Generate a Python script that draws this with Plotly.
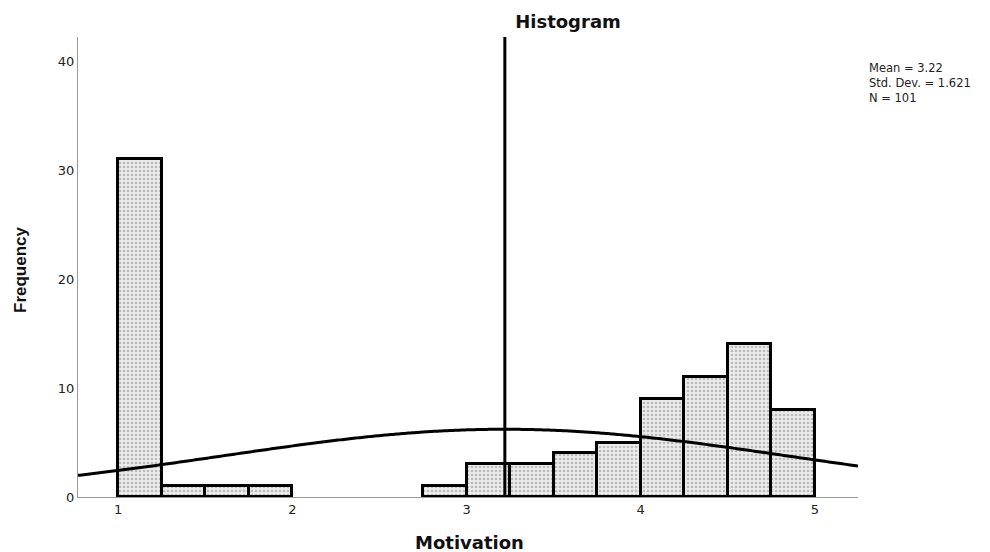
import numpy as np
import plotly.graph_objects as go

# Data
bin_starts = [1.0, 1.25, 1.5, 1.75, 2.75, 3.0, 3.25, 3.5, 3.75, 4.0, 4.25, 4.5, 4.75]
counts = [31, 1, 1, 1, 1, 3, 3, 4, 5, 9, 11, 14, 8]
bin_width = 0.25
mean_val = 3.22
std_val = 1.621
n_val = 101
x_ticks = [1, 2, 3, 4, 5]
y_ticks = [0, 10, 20, 30, 40]
stat_lines = ["Mean = %.2f" % mean_val, "Std. Dev. = %.3f" % std_val, "N = %d" % n_val]

x_range = [0.77, 5.247]
y_range = [0, 42.2]

centers = [b + bin_width / 2 for b in bin_starts]

fig = go.Figure()
fig.add_trace(go.Bar(
    x=centers, y=counts, width=bin_width,
    marker=dict(
        color="#e6e6e6",
        line=dict(color="black", width=3),
        pattern=dict(shape=".", fgcolor="#8a8a8a", bgcolor="#ececec", size=4, solidity=0.35),
    ),
    showlegend=False, hoverinfo="x+y",
))

# Normal curve from stated mean, SD and N
xc = np.linspace(x_range[0], x_range[1], 400)
yc = n_val * bin_width / (std_val * np.sqrt(2 * np.pi)) * np.exp(-0.5 * ((xc - mean_val) / std_val) ** 2)
fig.add_trace(go.Scatter(x=xc, y=yc, mode="lines",
                         line=dict(color="black", width=3, simplify=False),
                         showlegend=False, hoverinfo="skip"))

# Mean line
fig.add_trace(go.Scatter(x=[mean_val, mean_val], y=[0, y_range[1]], mode="lines",
                         line=dict(color="black", width=3), showlegend=False, hoverinfo="skip"))

# the page has an 8px body margin, so the figure is drawn 8px smaller
OFF = 8
W, H = 990 - OFF, 552 - OFF
L, T, R, B = 78 - OFF, 37 - OFF, 132, 55
PW, PH = W - L - R, H - T - B


def px_x(sx):  # screen x -> paper x
    return (sx - 78) / PW


def px_y(sy):  # screen y -> paper y
    return (497 - sy) / PH


tick_font = "DejaVu Sans, Verdana, sans-serif"
bold_wide = "DejaVu Sans, Verdana, sans-serif"
arial = "Liberation Sans, Arial, sans-serif"

annotations = [
    dict(text="<br>".join(stat_lines), xref="paper", yref="paper",
         x=px_x(867), y=px_y(59),
         xanchor="left", yanchor="top", align="left", showarrow=False,
         font=dict(size=11.5, color="#222", family=tick_font)),
    dict(text="<b>Frequency</b>", xref="paper", yref="paper",
         x=px_x(20), y=px_y(270), textangle=-90,
         xanchor="center", yanchor="middle", showarrow=False,
         font=dict(size=17, color="#111", family=arial)),
    dict(text="<b>Motivation</b>", xref="paper", yref="paper",
         x=px_x(469), y=px_y(542),
         xanchor="center", yanchor="middle", showarrow=False,
         font=dict(size=18, color="#111", family=bold_wide)),
]

fig.update_layout(
    width=W, height=H,
    margin=dict(l=L, r=R, t=T, b=B),
    paper_bgcolor="white", plot_bgcolor="white",
    bargap=0,
    font=dict(family=tick_font, color="#222"),
    title=dict(text="<b>Histogram</b>", x=(568 - OFF) / W, xanchor="center",
               y=1 - (22 - OFF) / H, yanchor="middle",
               font=dict(size=18, family=bold_wide, color="#111")),
    xaxis=dict(range=x_range, tickvals=x_ticks, ticks="", showgrid=False, zeroline=False,
               showline=True, linecolor="#999", linewidth=1,
               tickfont=dict(size=13, color="#222", family=tick_font), fixedrange=True),
    yaxis=dict(range=y_range, tickvals=y_ticks, ticks="", showgrid=False, zeroline=False,
               showline=True, linecolor="#999", linewidth=1,
               tickfont=dict(size=13, color="#222", family=tick_font), fixedrange=True),
    annotations=annotations,
)

fig.write_html("out.html")
